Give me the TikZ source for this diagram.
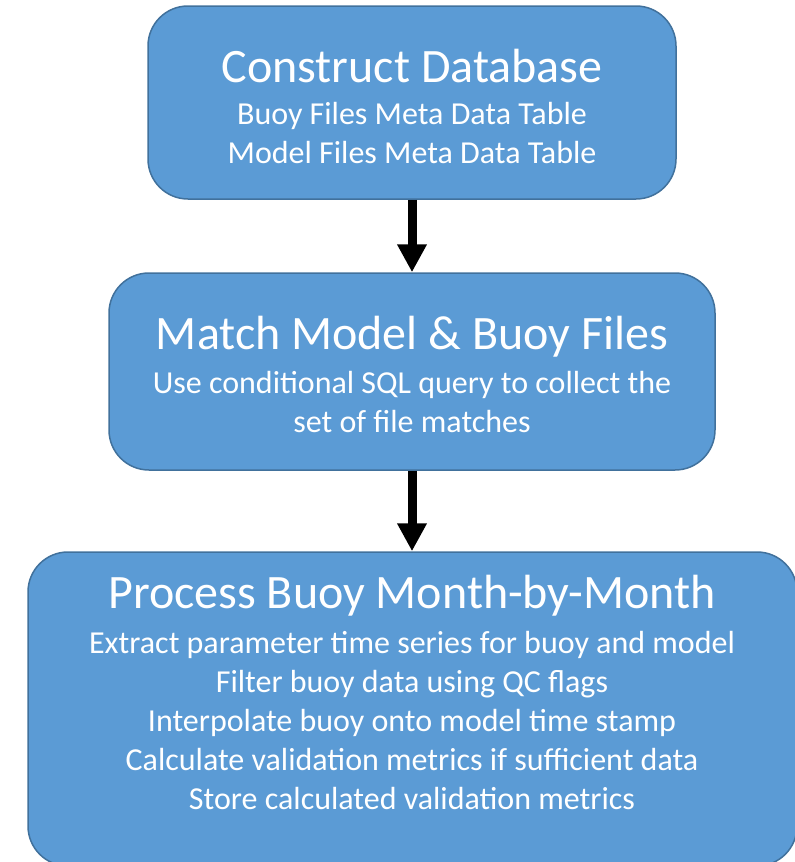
\documentclass[tikz,border=0pt]{standalone}
\usepackage{fontspec}
\setmainfont{Carlito}
\usetikzlibrary{arrows.meta}

\definecolor{boxfill}{HTML}{5B9BD5}
\definecolor{boxline}{HTML}{41719C}

\tikzset{
  stagebox/.style={draw=boxline, fill=boxfill, line width=1.5pt, rounded corners=40pt, inner sep=0pt},
  stagetitle/.style={text=white, inner sep=0pt, font=\fontsize{48}{58}\selectfont},
  stagetext/.style={text=white, inner sep=0pt, align=center, font=\fontsize{32}{39}\selectfont},
  flow/.style={-{Triangle[length=28pt,width=28pt]}, line width=9pt}
}

\begin{document}
\begin{tikzpicture}[x=1pt, y=-1pt]
	\useasboundingbox (0,0) rectangle (795,862);
	\begin{scope}
	\clip (0,0) rectangle (795,862);
	% the three stages
	\node [stagebox, minimum width=528pt, minimum height=193pt] (build) at (412,102.5) {};
	\node [stagebox, minimum width=606pt, minimum height=197pt] (match) at (412,371.5) {};
	\node [stagebox, minimum width=769pt, minimum height=314pt] (process) at (412.5,709) {};
	\end{scope}

	% stage texts
	\node [stagetitle] (buildtitle) at (412,66) {Construct Database};
	\node [stagetext] (buildtext) at (412,133.5) {Buoy Files Meta Data Table\\Model Files Meta Data Table};
	\node [stagetitle] (matchtitle) at (412,337) {Match Model \& Buoy Files};
	\node [stagetext] (matchtext) at (412,402) {Use conditional SQL query to collect the\\set of file matches};
	\node [stagetitle] (processtitle) at (412,596) {Process Buoy Month-by-Month};
	\node [stagetext] (processtext) at (412,720) {Extract parameter time series for buoy and model\\
		Filter buoy data using QC flags\\
		Interpolate buoy onto model time stamp\\
		Calculate validation metrics if sufficient data\\
		Store calculated validation metrics};

	% arrows between stages
	\draw [flow] (build.south) -- (match.north);
	\draw [flow] (match.south) -- (match.south |- process.north);
\end{tikzpicture}
\end{document}
